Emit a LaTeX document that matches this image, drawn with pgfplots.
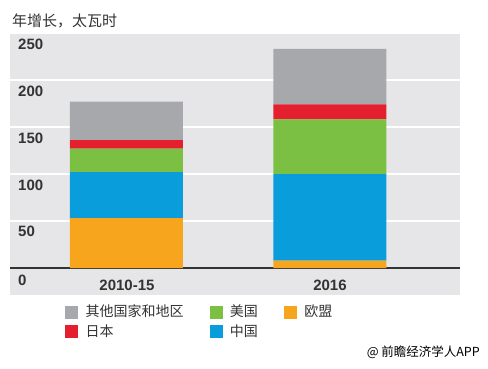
\documentclass[border=0pt]{standalone}
\usepackage{pgfplots}
\pgfplotsset{compat=1.18}
\usepackage{fontspec}
\setmainfont{Liberation Sans}
\newfontfamily\cjk{Noto Sans CJK SC}
\definecolor{cOther}{HTML}{A7A8AB}
\definecolor{cJapan}{HTML}{E5202E}
\definecolor{cUS}{HTML}{7BBF43}
\definecolor{cChina}{HTML}{0A9DDB}
\definecolor{cEU}{HTML}{F6A51D}
\definecolor{cPanel}{HTML}{E6E6E8}
\definecolor{cText}{HTML}{333333}
\begin{document}
\begin{tikzpicture}[x=1pt,y=1pt]
\path[use as bounding box] (-10,-73) rectangle (478,295);
\begin{axis}[
  at={(0,0)}, anchor=south west,
  scale only axis, width=450pt, height=262pt,
  xmin=-0.5725, xmax=1.639, ymin=-28.7, ymax=250,
  ybar stacked, bar width=113pt, bar shift=0pt,
  axis background/.style={fill=cPanel},
  axis line style={draw=none},
  xtick=\empty, ytick={50,100,150,200,250}, yticklabels={},
  major tick length=0pt,
  ymajorgrids, grid style={white, line width=2pt},
  clip=false,
  legend columns=3,
  legend cell align=left,
  legend style={draw=none, fill=none, inner sep=0pt, at={(rel axis cs:0.1222,-0.03)}, anchor=north west,
    font=\cjk\fontsize{14}{16}\selectfont, text=cText,
    /tikz/every even column/.append style={column sep=24pt},
    /tikz/every odd column/.append style={column sep=6pt},
    row sep=2pt},
]
\addplot[fill=cEU, draw=none, forget plot] coordinates {(0,53) (1,8)};
\addplot[fill=cChina, draw=none, forget plot] coordinates {(0,49) (1,92)};
\addplot[fill=cUS, draw=none, forget plot] coordinates {(0,25) (1,58)};
\addplot[fill=cJapan, draw=none, forget plot] coordinates {(0,9) (1,16)};
\addplot[fill=cOther, draw=none, forget plot] coordinates {(0,41) (1,59)};
\draw[line width=1.3pt, black!80] (axis cs:-0.5725,0) -- (axis cs:1.639,0);
\addlegendimage{legend image code/.code={\fill[cOther] (0pt,-6pt) rectangle (12pt,6pt);}}
\addlegendentry{其他国家和地区}
\addlegendimage{legend image code/.code={\fill[cUS] (0pt,-6pt) rectangle (12pt,6pt);}}
\addlegendentry{美国}
\addlegendimage{legend image code/.code={\fill[cEU] (0pt,-6pt) rectangle (12pt,6pt);}}
\addlegendentry{欧盟}
\addlegendimage{legend image code/.code={\fill[cJapan] (0pt,-6pt) rectangle (12pt,6pt);}}
\addlegendentry{日本}
\addlegendimage{legend image code/.code={\fill[cChina] (0pt,-6pt) rectangle (12pt,6pt);}}
\addlegendentry{中国}
\end{axis}
\begin{scope}[every node/.style={inner sep=0pt, text=cText, font=\bfseries\fontsize{15}{15}\selectfont}]
\node[anchor=north west] at (8,256) {250};
\node[anchor=north west] at (8,209) {200};
\node[anchor=north west] at (8,162) {150};
\node[anchor=north west] at (8,115) {100};
\node[anchor=north west] at (8,69) {50};
\node[anchor=north west] at (8,20) {0};
\node[anchor=north] at (117,15) {2010-15};
\node[anchor=north] at (320,15) {2016};
\end{scope}
\node[anchor=west, inner sep=0pt, text=cText, font=\cjk\fontsize{15}{15}\selectfont] at (2,274) {年增长，太瓦时};
\node[anchor=east, inner sep=0pt, text=black, font=\cjk\fontsize{12.5}{13}\selectfont] at (470,-57) {@ 前瞻经济学人APP};
\end{tikzpicture}
\end{document}
